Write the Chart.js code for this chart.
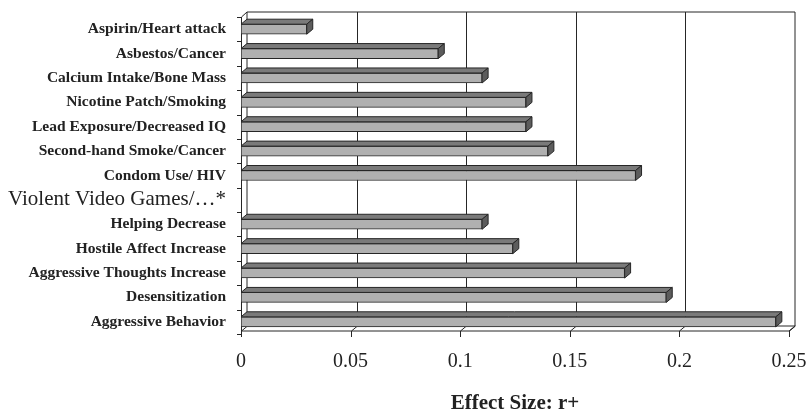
<!DOCTYPE html>
<html>
<head>
<meta charset="utf-8">
<script src="https://cdn.jsdelivr.net/npm/chart.js@4/dist/chart.umd.min.js"></script>
<style>
  html, body { margin: 0; padding: 0; background: #fff; }
  #wrap { width: 809px; height: 414px; position: relative; }
</style>
</head>
<body>
<div id="wrap"><canvas id="effectChart"></canvas></div>
<script>
// ---- data ----
const categories = [
  'Aspirin/Heart attack',
  'Asbestos/Cancer',
  'Calcium Intake/Bone Mass',
  'Nicotine Patch/Smoking',
  'Lead Exposure/Decreased IQ',
  'Second-hand Smoke/Cancer',
  'Condom Use/ HIV',
  'Violent Video Games/…*',
  'Helping Decrease',
  'Hostile Affect Increase',
  'Aggressive Thoughts Increase',
  'Desensitization',
  'Aggressive Behavior'
];
const effectSizes = [0.03, 0.09, 0.11, 0.13, 0.13, 0.14, 0.18, null, 0.11, 0.124, 0.175, 0.194, 0.244];
const xTicks = [0, 0.05, 0.1, 0.15, 0.2, 0.25];
const xTitle = 'Effect Size: r+';
const headingIndex = 7; // the plain, larger label with no bar

// 3D depth of the Excel-style box
const DX = 6, DY = 5;
const LINE = '#262626';
const SERIF = "'Liberation Serif', 'Times New Roman', serif";

function seg(c, pts) {
  c.beginPath();
  c.moveTo(pts[0][0], pts[0][1]);
  for (let i = 1; i < pts.length; i++) c.lineTo(pts[i][0], pts[i][1]);
  c.stroke();
}

// scales should not push the plot area around, layout.padding decides it
function noPad(s) {
  s.paddingTop = 0; s.paddingBottom = 0; s.paddingLeft = 0; s.paddingRight = 0;
}

const box3d = {
  id: 'box3d',
  beforeDatasetsDraw(chart) {
    const c = chart.ctx;
    const { left, right, top, bottom } = chart.chartArea;
    const xs = chart.scales.x;
    const floorY = bottom - 3;
    c.save();
    c.strokeStyle = LINE;
    c.lineWidth = 1;
    // back wall
    seg(c, [[left + DX, floorY - DY], [left + DX, top - DY], [right + DX, top - DY], [right + DX, floorY - DY]]);
    // gridlines on back wall
    xTicks.slice(1, -1).forEach(v => {
      const px = Math.round(xs.getPixelForValue(v)) + DX + 0.5;
      seg(c, [[px, top - DY], [px, floorY - DY]]);
    });
    // floor
    seg(c, [[left + DX, floorY - DY], [right + DX, floorY - DY]]);
    seg(c, [[left, floorY], [right, floorY], [right + DX, floorY - DY]]);
    xTicks.forEach(v => {
      const px = Math.round(xs.getPixelForValue(v)) + 0.5;
      seg(c, [[px + DX, floorY - DY], [px, floorY], [px, floorY + 6]]);
    });
    // front category axis
    seg(c, [[left + DX, top - DY], [left + 0.5, top], [left + 0.5, floorY]]);
    const h = (bottom - top) / categories.length;
    for (let k = 0; k <= categories.length; k++) {
      const py = Math.round(top + k * h) + 0.5;
      seg(c, [[left - 4, py], [left, py]]);
    }
    c.restore();
  },
  afterDatasetsDraw(chart) {
    const c = chart.ctx;
    const meta = chart.getDatasetMeta(0);
    c.save();
    c.strokeStyle = LINE;
    c.lineWidth = 1;
    meta.data.forEach((bar, i) => {
      if (effectSizes[i] == null) return;
      const { x, y, base, height } = bar.getProps(['x', 'y', 'base', 'height'], true);
      const t = y - height / 2, b = y + height / 2;
      // top face
      c.beginPath();
      c.moveTo(base, t); c.lineTo(x, t); c.lineTo(x + DX, t - DY); c.lineTo(base + DX, t - DY);
      c.closePath();
      c.fillStyle = '#7a7a7a';
      c.fill(); c.stroke();
      // end cap
      c.beginPath();
      c.moveTo(x, t); c.lineTo(x + DX, t - DY); c.lineTo(x + DX, b - DY); c.lineTo(x, b);
      c.closePath();
      c.fillStyle = '#5c5c5c';
      c.fill(); c.stroke();
    });
    c.restore();
  }
};

const ctx = document.getElementById('effectChart').getContext('2d');
const chart = new Chart(ctx, {
  type: 'bar',
  data: {
    labels: categories,
    datasets: [{
      data: effectSizes,
      backgroundColor: '#b0b0b0',
      borderColor: LINE,
      borderWidth: 1,
      borderSkipped: false,
      barThickness: 10
    }]
  },
  plugins: [box3d],
  options: {
    indexAxis: 'y',
    responsive: true,
    maintainAspectRatio: false,
    animation: false,
    layout: { padding: { top: 17, right: 20, left: 0, bottom: 0 } },
    plugins: {
      legend: { display: false },
      tooltip: { enabled: false }
    },
    scales: {
      x: {
        min: 0,
        max: 0.25,
        afterBuildTicks: s => { s.ticks = xTicks.map(v => ({ value: v })); },
        afterFit: s => { s.height = 80; noPad(s); },
        grid: { display: false, drawTicks: false },
        border: { display: false },
        ticks: {
          autoSkip: false,
          maxRotation: 0,
          padding: 16,
          color: '#222',
          font: { family: SERIF, size: 20 },
          callback: v => String(+Number(v).toFixed(2))
        },
        title: {
          display: true,
          text: xTitle,
          color: '#222',
          font: { family: SERIF, size: 21, weight: 'bold', lineHeight: 1 },
          padding: { top: 0, bottom: 0 }
        }
      },
      y: {
        afterFit: s => { s.width = 241; noPad(s); },
        grid: { display: false, drawTicks: false },
        border: { display: false },
        ticks: {
          autoSkip: false,
          padding: 15,
          color: '#222',
          font: c => c.index === headingIndex
            ? { family: SERIF, size: 21, weight: 'normal' }
            : { family: SERIF, size: 15.5, weight: 'bold' }
        }
      }
    }
  }
});
</script>
</body>
</html>
